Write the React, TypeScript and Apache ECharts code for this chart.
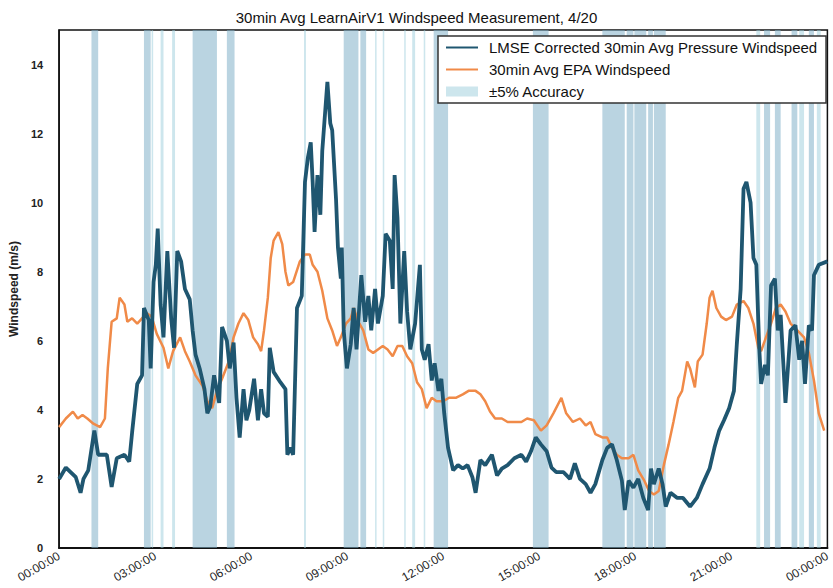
import React, { useEffect, useRef } from "react";
import * as echarts from "echarts";

const TITLE = "30min Avg LearnAirV1 Windspeed Measurement, 4/20";
const Y_NAME = "Windspeed (m/s)";
const NAME_LMSE = "LMSE Corrected 30min Avg Pressure Windspeed";
const NAME_EPA = "30min Avg EPA Windspeed";
const NAME_ACC = "±5% Accuracy";

// [hour of day, windspeed m/s]
const lmsePoints: [number, number][] = [
  [0.0, 2.0], [0.21, 2.33], [0.52, 2.05], [0.67, 1.6], [0.76, 2.0], [0.91, 2.25], [1.1, 3.4], [1.22, 2.7],
  [1.49, 2.7], [1.64, 1.77], [1.8, 2.6], [2.04, 2.7], [2.19, 2.5], [2.28, 3.35], [2.44, 4.75], [2.59, 5.0],
  [2.65, 6.95], [2.8, 6.6], [2.86, 5.2], [2.95, 7.7], [3.02, 8.2], [3.08, 9.25], [3.17, 7.05], [3.26, 6.1],
  [3.38, 8.6], [3.5, 6.65], [3.59, 5.8], [3.69, 8.6], [3.81, 8.3], [3.93, 7.5], [4.08, 7.2], [4.17, 6.3],
  [4.26, 5.6], [4.39, 5.2], [4.54, 4.6], [4.63, 3.9], [4.72, 4.1], [4.84, 5.0], [5.0, 4.2], [5.09, 6.4],
  [5.24, 6.0], [5.33, 5.2], [5.45, 5.95], [5.54, 4.35], [5.64, 3.2], [5.76, 4.6], [5.85, 3.7], [5.94, 4.0],
  [6.09, 4.9], [6.21, 3.7], [6.31, 4.6], [6.4, 3.9], [6.52, 3.8], [6.58, 5.8], [6.7, 5.1], [6.91, 4.8],
  [7.07, 4.6], [7.13, 2.7], [7.22, 2.9], [7.31, 2.7], [7.43, 6.95], [7.58, 7.3], [7.68, 10.6], [7.77, 11.3],
  [7.86, 11.75], [7.92, 10.6], [7.98, 9.15], [8.07, 10.8], [8.16, 9.65], [8.22, 11.5], [8.38, 13.5], [8.47, 12.3],
  [8.53, 12.1], [8.65, 10.1], [8.71, 8.7], [8.8, 7.8], [8.83, 8.7], [8.89, 6.3], [8.99, 5.2], [9.11, 5.9],
  [9.2, 6.95], [9.29, 5.75], [9.44, 7.9], [9.56, 6.55], [9.66, 7.3], [9.75, 6.3], [9.87, 7.5], [9.96, 6.5],
  [10.11, 7.3], [10.2, 9.1], [10.33, 8.9], [10.42, 7.5], [10.48, 10.8], [10.57, 9.55], [10.66, 6.5], [10.78, 8.6],
  [10.87, 6.85], [10.97, 5.75], [11.12, 6.5], [11.27, 8.2], [11.33, 5.75], [11.42, 5.45], [11.54, 5.9], [11.64, 4.85],
  [11.73, 5.35], [11.85, 4.55], [11.94, 4.9], [12.03, 3.9], [12.15, 2.9], [12.31, 2.25], [12.46, 2.4], [12.61, 2.3],
  [12.76, 2.4], [12.91, 2.05], [13.01, 1.6], [13.16, 2.55], [13.31, 2.4], [13.52, 2.7], [13.68, 2.1], [13.83, 2.3],
  [14.01, 2.4], [14.22, 2.6], [14.44, 2.7], [14.59, 2.5], [14.74, 2.8], [14.89, 3.2], [15.05, 3.0], [15.23, 2.8],
  [15.38, 2.33], [15.53, 2.2], [15.75, 2.2], [15.96, 2.0], [16.11, 2.45], [16.27, 2.0], [16.45, 1.85], [16.6, 1.6],
  [16.75, 1.85], [16.97, 2.55], [17.12, 2.9], [17.27, 3.0], [17.42, 2.55], [17.58, 1.95], [17.67, 1.1], [17.79, 1.95],
  [17.94, 1.75], [18.09, 2.0], [18.25, 1.45], [18.4, 1.1], [18.49, 2.3], [18.58, 1.85], [18.73, 2.3], [18.85, 1.85],
  [18.95, 1.2], [19.1, 1.6], [19.31, 1.45], [19.49, 1.45], [19.71, 1.2], [19.92, 1.45], [20.1, 1.85], [20.32, 2.3],
  [20.47, 2.9], [20.62, 3.4], [20.77, 3.7], [20.93, 4.05], [21.08, 4.55], [21.17, 5.9], [21.29, 7.5], [21.38, 10.4],
  [21.47, 10.6], [21.6, 10.0], [21.69, 8.4], [21.78, 8.2], [21.87, 5.8], [21.93, 4.75], [22.05, 5.3], [22.14, 5.0],
  [22.24, 7.6], [22.36, 7.8], [22.45, 6.3], [22.54, 6.75], [22.69, 4.2], [22.85, 6.3], [23.0, 6.45], [23.12, 5.45],
  [23.21, 6.0], [23.3, 4.75], [23.42, 6.45], [23.52, 6.3], [23.58, 7.9], [23.73, 8.2], [24.0, 8.3],
];

const epaPoints: [number, number][] = [
  [0.0, 3.5], [0.21, 3.75], [0.43, 3.95], [0.58, 3.75], [0.73, 3.85], [0.88, 3.75], [1.07, 3.6], [1.28, 3.5],
  [1.43, 3.75], [1.52, 5.2], [1.64, 6.55], [1.8, 6.65], [1.89, 7.25], [2.04, 7.05], [2.13, 6.55], [2.28, 6.65],
  [2.44, 6.5], [2.59, 6.65], [2.74, 6.8], [2.89, 6.7], [3.05, 6.2], [3.26, 5.8], [3.41, 5.2], [3.56, 5.7],
  [3.78, 6.1], [3.93, 5.7], [4.08, 5.4], [4.26, 5.0], [4.48, 4.7], [4.63, 4.25], [4.78, 4.05], [4.93, 4.55],
  [5.09, 4.9], [5.3, 5.4], [5.45, 6.1], [5.6, 6.5], [5.76, 6.8], [5.91, 6.6], [6.06, 6.1], [6.21, 5.9],
  [6.31, 5.7], [6.4, 6.3], [6.52, 7.25], [6.61, 8.4], [6.7, 8.9], [6.85, 9.15], [6.97, 8.8], [7.07, 8.0],
  [7.16, 7.6], [7.31, 7.7], [7.52, 8.3], [7.68, 8.5], [7.83, 8.5], [7.92, 8.2], [8.07, 8.0], [8.22, 7.45],
  [8.38, 6.65], [8.53, 6.3], [8.68, 5.85], [8.8, 6.1], [8.96, 6.5], [9.11, 6.65], [9.2, 6.95], [9.35, 6.55],
  [9.5, 6.3], [9.66, 5.75], [9.81, 5.65], [9.96, 5.75], [10.11, 5.85], [10.26, 5.75], [10.42, 5.55], [10.57, 5.85],
  [10.72, 5.85], [10.87, 5.55], [11.03, 5.35], [11.18, 4.8], [11.33, 4.6], [11.48, 4.05], [11.64, 4.35], [11.79, 4.25],
  [12.0, 4.25], [12.18, 4.35], [12.39, 4.35], [12.61, 4.45], [12.79, 4.55], [13.01, 4.55], [13.16, 4.45], [13.31, 4.25],
  [13.46, 3.95], [13.62, 3.75], [13.83, 3.75], [14.01, 3.65], [14.22, 3.65], [14.44, 3.65], [14.62, 3.75], [14.83, 3.7],
  [15.05, 3.4], [15.23, 3.55], [15.44, 3.9], [15.69, 4.35], [15.84, 3.9], [16.05, 3.65], [16.27, 3.75], [16.45, 3.55],
  [16.6, 3.65], [16.75, 3.3], [16.97, 3.2], [17.12, 3.2], [17.27, 2.9], [17.42, 2.7], [17.58, 2.6], [17.79, 2.6],
  [17.94, 2.7], [18.09, 2.25], [18.28, 1.95], [18.43, 1.65], [18.58, 1.55], [18.73, 1.65], [18.89, 2.4], [19.04, 3.0],
  [19.19, 3.65], [19.34, 4.35], [19.46, 4.55], [19.62, 5.4], [19.71, 5.2], [19.86, 4.65], [19.95, 5.4], [20.1, 5.6],
  [20.23, 6.5], [20.32, 7.25], [20.41, 7.45], [20.53, 6.95], [20.68, 6.7], [20.83, 6.6], [21.02, 6.7], [21.17, 7.05],
  [21.38, 7.15], [21.53, 6.95], [21.69, 6.5], [21.84, 5.8], [21.93, 5.7], [22.08, 6.1], [22.24, 6.5], [22.39, 6.95],
  [22.54, 7.05], [22.69, 6.85], [22.85, 6.5], [23.06, 6.3], [23.27, 6.1], [23.42, 5.65], [23.58, 4.85], [23.73, 3.9],
  [23.9, 3.4],
];

// [start hour, end hour] of the ±5% accuracy spans
const accuracyBands: [number, number][] = [
  [1.01, 1.22], [2.65, 2.86], [2.89, 2.92], [3.17, 3.26], [3.53, 3.62], [4.17, 4.93], [5.24, 5.48],
  [7.65, 7.71], [8.89, 9.35], [9.41, 9.59], [9.87, 9.9], [10.11, 10.14], [10.78, 10.81], [11.03, 11.12],
  [11.39, 11.42], [11.7, 12.15], [14.8, 15.29], [16.97, 17.67], [17.73, 17.94], [17.97, 18.34],
  [18.4, 18.55], [18.58, 18.95], [21.78, 21.9], [22.02, 22.21], [22.36, 22.54], [22.88, 23.06],
  [23.12, 23.27], [23.42, 23.58], [23.67, 23.79],
];

const yTicks = [0, 2, 4, 6, 8, 10, 12, 14];
const xTickHours = [0, 3, 6, 9, 12, 15, 18, 21, 24];

const FONT = "Liberation Sans, Arial, Helvetica, sans-serif";
const DARK = "#1f5670";
const ORANGE = "#f08a48";
const BAND = "rgba(130,176,200,0.55)";
const BAND_LIGHT = "rgba(155,205,220,0.5)";

function fmtHour(h: number): string {
  const hh = Math.round(h) % 24;
  return (hh < 10 ? "0" : "") + hh + ":00:00";
}

export default function App() {
  const ref = useRef<HTMLDivElement>(null);
  useEffect(() => {
    const chart = echarts.init(ref.current!, null, { renderer: "svg" });
    chart.setOption({
      animation: false,
      backgroundColor: "#ffffff",
      textStyle: { fontFamily: FONT },
      title: {
        text: TITLE,
        left: "center",
        top: 5,
        textStyle: { fontSize: 15, fontWeight: "normal", color: "#111", fontFamily: FONT },
      },
      legend: {
        orient: "vertical",
        left: 438,
        top: 36,
        padding: [3, 8, 3, 7],
        itemWidth: 32,
        itemHeight: 10,
        itemGap: 5,
        backgroundColor: "#ffffff",
        borderColor: "#333",
        borderWidth: 1.5,
        borderRadius: 0,
        textStyle: { fontSize: 15, lineHeight: 17, color: "#111", fontFamily: FONT, padding: [0, 0, 0, 6] },
        data: [
          { name: NAME_LMSE, itemStyle: { color: "transparent", borderWidth: 0 } },
          { name: NAME_EPA, itemStyle: { color: "transparent", borderWidth: 0 } },
          { name: NAME_ACC, icon: "rect", itemStyle: { color: BAND_LIGHT } },
        ],
      },
      grid: {
        left: 53,
        top: 30,
        right: -8,
        bottom: 40,
        show: true,
        borderColor: "#111",
        borderWidth: 1.5,
        backgroundColor: "transparent",
      },
      xAxis: {
        type: "value",
        min: xTickHours[0],
        max: xTickHours[xTickHours.length - 1],
        interval: 3,
        axisLine: { show: true, lineStyle: { color: "#111", width: 2 } },
        axisTick: { show: false },
        splitLine: { show: false },
        axisLabel: {
          rotate: 30,
          fontSize: 12,
          color: "#222",
          margin: 7,
          showMaxLabel: true,
          showMinLabel: true,
          formatter: (v: number) => fmtHour(v),
        },
      },
      yAxis: {
        type: "value",
        min: yTicks[0],
        max: 15,
        interval: 2,
        name: Y_NAME,
        nameLocation: "middle",
        nameGap: 25,
        nameTextStyle: { fontSize: 12, fontWeight: "bold", color: "#222", fontFamily: FONT },
        axisLine: { show: true, lineStyle: { color: "#111", width: 1.5 } },
        axisTick: { show: false },
        splitLine: { show: false },
        axisLabel: {
          fontSize: 11,
          fontWeight: "bold",
          color: "#222",
          margin: 16,
          formatter: (v: number) => (yTicks.indexOf(v) >= 0 ? String(v) : ""),
        },
      },
      series: [
        {
          name: NAME_ACC,
          type: "custom",
          z: 1,
          silent: true,
          itemStyle: { color: BAND_LIGHT },
          encode: { x: [0, 1] },
          data: accuracyBands,
          renderItem: (params: any, api: any) => {
            const a = api.coord([api.value(0), 15]);
            const b = api.coord([api.value(1), 0]);
            const wide = api.value(1) - api.value(0) >= 0.15;
            return {
              type: "rect",
              shape: { x: a[0], y: a[1], width: Math.max(1.5, b[0] - a[0]), height: b[1] - a[1] },
              style: { fill: wide ? BAND : BAND_LIGHT },
            };
          },
        },
        {
          name: NAME_EPA,
          type: "line",
          z: 3,
          data: epaPoints,
          symbol: "none",
          showSymbol: false,
          lineStyle: { color: ORANGE, width: 2.5 },
          itemStyle: { color: ORANGE },
        },
        {
          name: NAME_LMSE,
          type: "line",
          z: 4,
          data: lmsePoints,
          symbol: "none",
          showSymbol: false,
          lineStyle: { color: DARK, width: 3.8 },
          itemStyle: { color: DARK },
        },
      ],
    });
    return () => chart.dispose();
  }, []);
  return (
    <div
      ref={ref}
      style={{ position: "absolute", left: 0, top: 0, width: 833, height: 588, background: "#fff" }}
    />
  );
}
